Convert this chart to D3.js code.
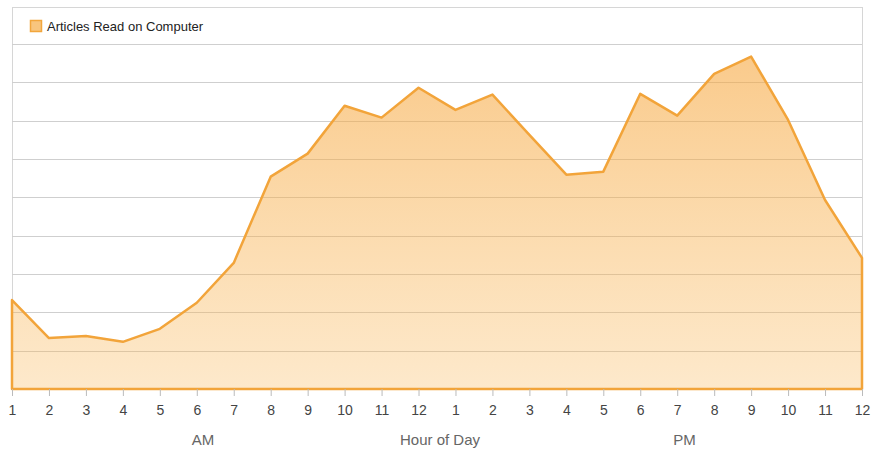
<!DOCTYPE html>
<html><head><meta charset="utf-8">
<script src="https://cdn.jsdelivr.net/npm/d3@7"></script>
<style>
html,body{margin:0;padding:0;background:#fff;}
svg{display:block;font-family:"Liberation Sans",Arial,sans-serif;}
</style></head>
<body><svg id="c" width="871" height="451"></svg>
<script>
const hours = ["1","2","3","4","5","6","7","8","9","10","11","12","1","2","3","4","5","6","7","8","9","10","11","12"];
const articles = [2.32,1.33,1.38,1.23,1.57,2.25,3.29,5.54,6.14,7.39,7.08,7.86,7.28,7.68,6.63,5.59,5.67,7.70,7.13,8.22,8.67,7.02,4.93,3.42];
const gridValues = [1,2,3,4,5,6,7,8,9];
const seriesName = "Articles Read on Computer";
const xTitle = "Hour of Day";
const periodLabels = [{text:"AM", at:5.17},{text:"PM", at:18.2}];

const svg = d3.select("#c");
const L = 12, R = 862, T = 44, B = 389, boxTop = 7;
const idx = d3.range(hours.length);
const x = d3.scaleLinear().domain([0, hours.length-1]).range([L, R]);
const y = d3.scaleLinear().domain([0, 9]).range([B, T]);

// frame
svg.append("rect").attr("x", L+0.5).attr("y", boxTop+0.5).attr("width", R-L).attr("height", B-boxTop)
  .attr("fill","#fff").attr("stroke","#d6d6d6");

// gridlines
svg.append("g").selectAll("line").data(gridValues).join("line")
  .attr("x1", L).attr("x2", R)
  .attr("y1", d => Math.round(y(d))+0.5).attr("y2", d => Math.round(y(d))+0.5)
  .attr("stroke","#cfcfcf").attr("stroke-width",1);

// gradient
const defs = svg.append("defs");
const g = defs.append("linearGradient").attr("id","fillg")
  .attr("gradientUnits","userSpaceOnUse").attr("y1", T).attr("y2", B).attr("x1",0).attr("x2",0);
g.append("stop").attr("offset","0%").attr("stop-color","#f6a53a").attr("stop-opacity",0.6);
g.append("stop").attr("offset","100%").attr("stop-color","#f9b552").attr("stop-opacity",0.3);

const area = d3.area().x(d => x(d)).y0(B).y1(d => y(articles[d]));
svg.append("path").datum(idx).attr("d", area).attr("fill","url(#fillg)")
  .attr("stroke","#f2a43a").attr("stroke-width",2.5).attr("stroke-linejoin","round");

// x axis
const axis = d3.axisBottom(x).tickValues(idx).tickFormat(i => hours[i]).tickSize(7).tickPadding(9);
const ax = svg.append("g").attr("transform",`translate(0,${B})`).call(axis);
ax.select(".domain").remove();
ax.selectAll(".tick line").attr("stroke","#bbbbbb");
ax.selectAll(".tick text").attr("fill","#444").style("font-size","14px");

// axis titles
svg.append("text").attr("x", 440).attr("y", 445).attr("text-anchor","middle")
  .attr("fill","#666").style("font-size","15px").text(xTitle);
svg.append("g").selectAll("text").data(periodLabels).join("text")
  .attr("x", d => x(d.at)).attr("y", 445).attr("text-anchor","middle")
  .attr("fill","#666").style("font-size","15px").text(d => d.text);

// legend
svg.append("rect").attr("x",30.5).attr("y",20.5).attr("width",11).attr("height",11)
  .attr("fill","#f8c57e").attr("stroke","#f2a63c").attr("stroke-width",1.5);
svg.append("text").attr("x",47).attr("y",31).attr("fill","#222").style("font-size","13px").text(seriesName);
</script></body></html>
